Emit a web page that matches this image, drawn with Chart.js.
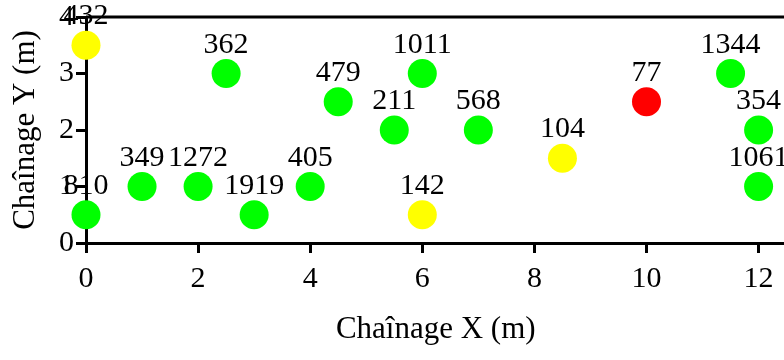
<!DOCTYPE html>
<html>
<head>
<meta charset="utf-8">
<script src="https://cdn.jsdelivr.net/npm/chart.js@4"></script>
<style>
  html, body { margin: 0; padding: 0; background: #fff; overflow: hidden; }
  #wrap { width: 800px; height: 360px; }
</style>
</head>
<body>
<div id="wrap"><canvas id="chart" width="800" height="360"></canvas></div>
<script>
// point positions (m), readings and status
const xValues = [0, 2.5, 4.5, 6, 5.5, 7, 8.5, 10, 11.5, 12, 12, 0, 1, 2, 3, 4, 6];
const yValues = [3.5, 3, 2.5, 3, 2, 2, 1.5, 2.5, 3, 2, 1, 0.5, 1, 1, 0.5, 1, 0.5];
const readings = ['432', '362', '479', '1011', '211', '568', '104', '77', '1344', '354', '1061', '810', '349', '1272', '1919', '405', '142'];
const status = ['warn', 'ok', 'ok', 'ok', 'ok', 'ok', 'warn', 'bad', 'ok', 'ok', 'ok', 'ok', 'ok', 'ok', 'ok', 'ok', 'warn'];
const xTicks = [0, 2, 4, 6, 8, 10, 12];
const yTicks = [0, 1, 2, 3, 4];

const statusColor = { ok: '#00ff00', warn: '#ffff00', bad: '#ff0000' };
const serif = '"Liberation Serif", "Times New Roman", serif';

// numbers written above each point
const pointLabels = {
  id: 'pointLabels',
  afterDatasetsDraw(chart) {
    const ctx = chart.ctx;
    const meta = chart.getDatasetMeta(0);
    ctx.save();
    ctx.font = '30px ' + serif;
    ctx.fillStyle = '#000';
    ctx.textAlign = 'center';
    ctx.textBaseline = 'alphabetic';
    meta.data.forEach((pt, i) => {
      ctx.fillText(readings[i], pt.x, pt.y - 21);
    });
    ctx.restore();
  }
};

// top frame line
const frame = {
  id: 'frame',
  afterDraw(chart) {
    const a = chart.chartArea;
    const ctx = chart.ctx;
    ctx.save();
    ctx.strokeStyle = '#000';
    ctx.lineWidth = 3;
    ctx.beginPath();
    ctx.moveTo(a.left, a.top);
    ctx.lineTo(a.right, a.top);
    ctx.lineTo(a.right, a.bottom);
    ctx.stroke();
    ctx.restore();
  }
};

new Chart(document.getElementById('chart'), {
  type: 'scatter',
  data: {
    datasets: [{
      data: xValues.map((x, i) => ({ x: x, y: yValues[i] })),
      backgroundColor: status.map(s => statusColor[s]),
      borderWidth: 0,
      pointRadius: 14.5,
      clip: false
    }]
  },
  options: {
    responsive: false,
    animation: false,
    events: [],
    layout: { padding: { top: 17, right: 9, left: 0, bottom: 0 } },
    plugins: { legend: { display: false }, tooltip: { enabled: false } },
    scales: {
      x: {
        type: 'linear',
        min: 0,
        max: 12.48,
        z: 1,
        afterBuildTicks: s => { s.ticks = xTicks.map(v => ({ value: v })); },
        afterFit: s => { s.height = 117; },
        border: { display: true, color: '#000', width: 3 },
        grid: { drawOnChartArea: false, drawTicks: true, tickLength: 10, tickWidth: 3, tickColor: '#000' },
        ticks: { color: '#000', padding: 8, font: { family: serif, size: 30 } },
        title: { display: true, text: 'Chaînage X (m)', color: '#000', font: { family: serif, size: 31 }, padding: { top: 0, bottom: 12 } }
      },
      y: {
        type: 'linear',
        min: 0,
        max: 4,
        z: 1,
        afterBuildTicks: s => { s.ticks = yTicks.map(v => ({ value: v })); },
        afterFit: s => { s.width = 86; },
        border: { display: true, color: '#000', width: 3 },
        grid: { drawOnChartArea: false, drawTicks: true, tickLength: 10, tickWidth: 3, tickColor: '#000' },
        ticks: { color: '#000', padding: 2, font: { family: serif, size: 30, lineHeight: 1 } },
        title: { display: true, text: 'Chaînage Y (m)', color: '#000', font: { family: serif, size: 31 }, padding: { top: 7, bottom: 0 } }
      }
    }
  },
  plugins: [pointLabels, frame]
});
</script>
</body>
</html>
